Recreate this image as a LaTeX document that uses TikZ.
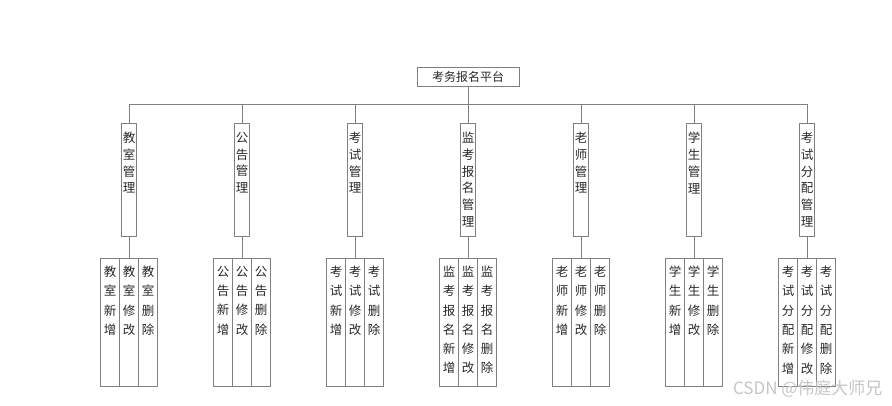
\documentclass[tikz,border=0pt]{standalone}
\usepackage{fontspec}
\setmainfont{Noto Sans CJK SC}
\usepackage{tikz}
\usetikzlibrary{positioning,calc}

\definecolor{linegray}{RGB}{128,128,128}
\definecolor{textgray}{RGB}{40,40,40}

% column of characters, top aligned: height, width, top gap, text
\newcommand{\vcol}[4]{\parbox[t][#1pt][t]{#2pt}{\centering\vspace*{#3pt}#4}}
\newcommand{\midcol}[1]{\vcol{113}{15}{9}{#1}}
\newcommand{\leafcol}[1]{\vcol{128.5}{19}{8}{#1}}

\tikzset{
  line/.style={draw=linegray, line width=0.8pt},
  rootbox/.style={draw=linegray, line width=0.8pt, minimum width=102, minimum height=19,
    inner sep=0, outer sep=0, text=textgray, font=\fontsize{12}{14}\selectfont},
  midbox/.style={draw=linegray, line width=0.8pt, inner sep=0, outer sep=0, anchor=north,
    text=textgray, font=\fontsize{12.5}{16.8}\selectfont},
  leafbox/.style={draw=linegray, line width=0.8pt, inner sep=0, outer sep=0,
    text=textgray, font=\fontsize{12.5}{19.3}\selectfont},
}

\begin{document}
\begin{tikzpicture}[x=1pt, y=-1pt]
	\useasboundingbox (0,0) rectangle (892,405);
	\node[rootbox] (root) at (468,76.5) {考务报名平台}; % Platform

	% second level
	\node[midbox] (js) at (129,123) {\midcol{教\\室\\管\\理}};
	\node[midbox] (gg) at (242,123) {\midcol{公\\告\\管\\理}};
	\node[midbox] (ks) at (355,123) {\midcol{考\\试\\管\\理}};
	\node[midbox] (jk) at (468,123) {\midcol{监\\考\\报\\名\\管\\理}};
	\node[midbox] (ls) at (581,123) {\midcol{老\\师\\管\\理}};
	\node[midbox] (xs) at (694,123) {\midcol{学\\生\\管\\理}};
	\node[midbox] (fp) at (807,123) {\midcol{考\\试\\分\\配\\管\\理}};

	% leaves
	\node[leafbox, below=22pt of js] (jsEdit) {\leafcol{教\\室\\修\\改}};
	\node[leafbox, left=0pt of jsEdit] (jsAdd) {\leafcol{教\\室\\新\\增}};
	\node[leafbox, right=0pt of jsEdit] (jsDel) {\leafcol{教\\室\\删\\除}};

	\node[leafbox, below=22pt of gg] (ggEdit) {\leafcol{公\\告\\修\\改}};
	\node[leafbox, left=0pt of ggEdit] (ggAdd) {\leafcol{公\\告\\新\\增}};
	\node[leafbox, right=0pt of ggEdit] (ggDel) {\leafcol{公\\告\\删\\除}};

	\node[leafbox, below=22pt of ks] (ksEdit) {\leafcol{考\\试\\修\\改}};
	\node[leafbox, left=0pt of ksEdit] (ksAdd) {\leafcol{考\\试\\新\\增}};
	\node[leafbox, right=0pt of ksEdit] (ksDel) {\leafcol{考\\试\\删\\除}};

	\node[leafbox, below=22pt of jk] (jkEdit) {\leafcol{监\\考\\报\\名\\修\\改}};
	\node[leafbox, left=0pt of jkEdit] (jkAdd) {\leafcol{监\\考\\报\\名\\新\\增}};
	\node[leafbox, right=0pt of jkEdit] (jkDel) {\leafcol{监\\考\\报\\名\\删\\除}};

	\node[leafbox, below=22pt of ls] (lsEdit) {\leafcol{老\\师\\修\\改}};
	\node[leafbox, left=0pt of lsEdit] (lsAdd) {\leafcol{老\\师\\新\\增}};
	\node[leafbox, right=0pt of lsEdit] (lsDel) {\leafcol{老\\师\\删\\除}};

	\node[leafbox, below=22pt of xs] (xsEdit) {\leafcol{学\\生\\修\\改}};
	\node[leafbox, left=0pt of xsEdit] (xsAdd) {\leafcol{学\\生\\新\\增}};
	\node[leafbox, right=0pt of xsEdit] (xsDel) {\leafcol{学\\生\\删\\除}};

	\node[leafbox, below=22pt of fp] (fpEdit) {\leafcol{考\\试\\分\\配\\修\\改}};
	\node[leafbox, left=0pt of fpEdit] (fpAdd) {\leafcol{考\\试\\分\\配\\新\\增}};
	\node[leafbox, right=0pt of fpEdit] (fpDel) {\leafcol{考\\试\\分\\配\\删\\除}};

	% bus
	\coordinate (busL) at (129,104);
	\coordinate (busR) at (807,104);
	\draw[line] (root.south) -- (root.south |- busL);
	\draw[line] (busL) -- (busR);
	\draw[line] (js.north) -- (js.north |- busL);
	\draw[line] (gg.north) -- (gg.north |- busL);
	\draw[line] (ks.north) -- (ks.north |- busL);
	\draw[line] (jk.north) -- (jk.north |- busL);
	\draw[line] (ls.north) -- (ls.north |- busL);
	\draw[line] (xs.north) -- (xs.north |- busL);
	\draw[line] (fp.north) -- (fp.north |- busL);

	% down to leaves
	\draw[line] (js.south) -- (jsEdit.north);
	\draw[line] (gg.south) -- (ggEdit.north);
	\draw[line] (ks.south) -- (ksEdit.north);
	\draw[line] (jk.south) -- (jkEdit.north);
	\draw[line] (ls.south) -- (lsEdit.north);
	\draw[line] (xs.south) -- (xsEdit.north);
	\draw[line] (fp.south) -- (fpEdit.north);

	\node[anchor=east, text=gray!45, font=\fontsize{17}{17}\selectfont] (mark) at (886,389) {CSDN @伟庭大师兄};
\end{tikzpicture}
\end{document}
